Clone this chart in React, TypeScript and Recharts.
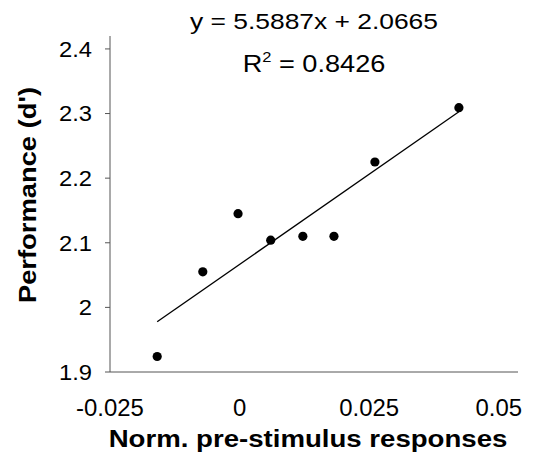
import { ScatterChart, Scatter, XAxis, YAxis, ReferenceLine } from "recharts";

// measured points (norm. pre-stimulus response vs d')
const xValues = [-0.0159, -0.0071, -0.0003, 0.006, 0.0122, 0.0182, 0.0261, 0.0423];
const yValues = [1.924, 2.055, 2.145, 2.104, 2.11, 2.11, 2.225, 2.309];

const xTicks = [-0.025, 0, 0.025, 0.05];
const yTicks = [1.9, 2, 2.1, 2.2, 2.3, 2.4];

// linear fit shown on the chart
const slope = 5.5887;
const intercept = 2.0665;
const fitRange = [-0.0159, 0.0423];

const FONT = "'Liberation Sans', Arial, sans-serif";

const points = xValues.map((x, i) => ({ x, y: yValues[i] }));
const fitSegment = fitRange.map((x) => ({ x, y: slope * x + intercept }));

const XTick = ({ x, y, payload }: any) => (
  <text transform={`translate(${x},${y}) scale(1.04,1)`} textAnchor="middle" dy="0.71em" fontSize={23} fontFamily={FONT} fill="#000">
    {String(payload.value)}
  </text>
);

const YTick = ({ x, y, payload }: any) => (
  <text transform={`translate(${x},${y}) scale(1.08,1)`} textAnchor="end" dy="0.36em" fontSize={22} fontFamily={FONT} fill="#000">
    {String(payload.value)}
  </text>
);

const App = () => {
  return (
    <div style={{ position: "absolute", left: 0, top: 0, width: 533, height: 455, background: "#fff" }}>
      <ScatterChart width={533} height={455} margin={{ top: 36, right: 15, bottom: 0, left: 0 }}>
        <XAxis
          type="number"
          dataKey="x"
          domain={[-0.025, 0.0537]}
          ticks={xTicks}
          allowDataOverflow
          height={83}
          tickLine={false}
          tickSize={6}
          tickMargin={22}
          stroke="#555"
          tick={<XTick />}
        />
        <YAxis
          type="number"
          dataKey="y"
          domain={[1.9, 2.42]}
          ticks={yTicks}
          allowDataOverflow
          width={110}
          tickSize={5}
          tickMargin={13}
          stroke="#555"
          tick={<YTick />}
        />
        <ReferenceLine segment={fitSegment} stroke="#000" strokeWidth={1.3} ifOverflow="visible" />
        <Scatter
          data={points}
          fill="#000"
          isAnimationActive={false}
          shape={(p: any) => <circle cx={p.cx} cy={p.cy} r={4.6} fill="#000" />}
        />
      </ScatterChart>
      <svg width={533} height={455} style={{ position: "absolute", left: 0, top: 0, pointerEvents: "none" }}>
        <text transform="translate(314,29) scale(1.2,1)" textAnchor="middle" fontSize={22} fontFamily={FONT} fill="#000">
          y = 5.5887x + 2.0665
        </text>
        <text transform="translate(314,72) scale(1.18,1)" textAnchor="middle" fontSize={23} fontFamily={FONT} fill="#000">
          R<tspan fontSize={14} dy={-10}>2</tspan>
          <tspan dy={10}> = 0.8426</tspan>
        </text>
        <text transform="translate(308,447) scale(1.15,1)" textAnchor="middle" fontSize={24} fontWeight="bold" fontFamily={FONT} fill="#000">
          Norm. pre-stimulus responses
        </text>
        <text transform="translate(36,195) rotate(-90) scale(1.14,1)" textAnchor="middle" fontSize={24} fontWeight="bold" fontFamily={FONT} fill="#000">
          Performance (d')
        </text>
      </svg>
    </div>
  );
};

export default App;
